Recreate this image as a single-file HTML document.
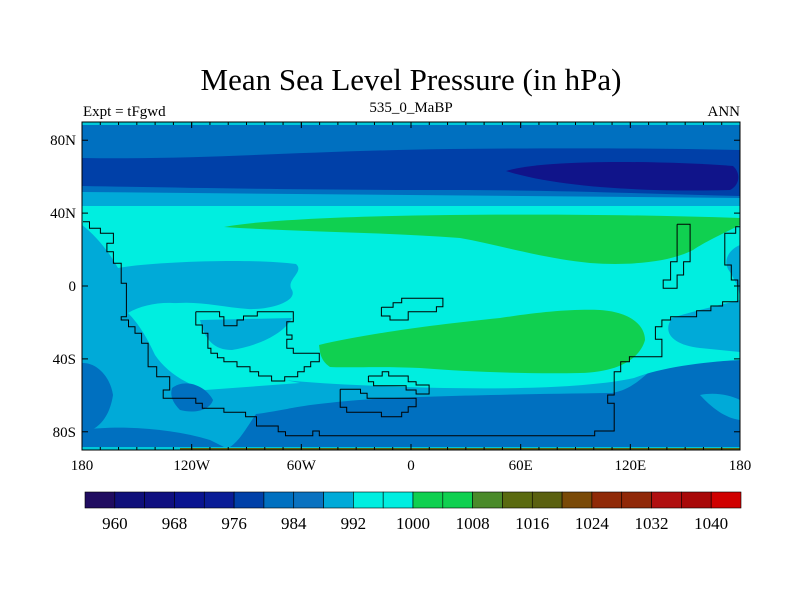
<!DOCTYPE html>
<html><head><meta charset="utf-8"><style>
html,body{margin:0;padding:0;background:#fff;width:800px;height:600px;overflow:hidden}
svg{display:block;font-family:"Liberation Serif",serif}
</style></head><body>
<svg id="chart" width="800" height="600" viewBox="0 0 800 600">
<text x="411" y="90" font-size="31" text-anchor="middle">Mean Sea Level Pressure (in hPa)</text>
<text x="83" y="116" font-size="15">Expt = tFgwd</text>
<text x="411" y="112" font-size="15" text-anchor="middle">535_0_MaBP</text>
<text x="740" y="116" font-size="15" text-anchor="end">ANN</text>
<defs><clipPath id="mc"><rect x="82" y="122" width="658" height="328"/></clipPath></defs>
<g id="map" clip-path="url(#mc)">
<rect x="82" y="122" width="658" height="328" fill="#0070c0"/>
<path fill="#00aad8" d="M82,188 L740,196 L740,360 C700,362 670,365 655,367 C640,380 630,390 612,393 C520,394 430,396 373,399 C330,402 300,406 287,409 C275,411 265,413 256,414 C245,430 240,440 230,447 L82,447 Z"/>
<path fill="#00eee0" d="M82,206 L740,206 L740,300 C720,305 690,312 672,318 C662,332 672,345 700,348 L740,352 L740,360 C700,362 660,368 634,378 C580,390 470,390 380,386 C300,383 240,378 210,365 C190,352 185,330 160,315 C145,305 135,300 126,300 C115,260 100,240 82,228 Z"/>
<path fill="#00aad8" d="M82,225 C95,235 108,250 118,268 C150,262 250,258 296,264 C305,272 285,280 292,290 C298,302 268,310 248,309 C220,307 195,300 170,304 C150,306 135,308 128,313 C140,325 150,345 148,360 C155,372 168,380 185,388 L82,390 Z"/>
<path fill="#00eee0" d="M128,313 C145,303 170,300 195,306 C210,320 212,345 228,360 C245,372 275,378 300,383 L205,390 C182,382 165,370 155,355 C148,340 140,325 128,313 Z"/>
<path fill="#00aad8" d="M200,320 L292,318 C285,332 262,345 232,350 C214,350 205,340 200,320 Z"/>
<path fill="#00aad8" d="M740,245 C728,250 722,262 730,272 C736,282 740,290 740,300 Z"/>
<path fill="#0070c0" d="M82,122 L740,122 L740,198 L82,192 Z"/>
<path fill="#0040a8" d="M82,158 C200,160 300,151 450,149 C560,148 650,148 740,150 L740,196 C650,194 560,190 450,190 C300,190 200,188 82,186 Z"/>
<path fill="#10148a" d="M506,171 C540,160 650,160 733,166 C741,173 740,185 730,190 C650,192 560,188 506,171 Z"/>
<path fill="#10d050" d="M224,227 C260,220 350,216 450,215 C560,214 650,215 740,218 L740,225 C720,235 705,242 693,250 C670,262 630,266 590,263 C540,258 500,245 460,238 C380,232 300,232 224,227 Z"/>
<path fill="#10d050" d="M319,345 C360,335 430,325 500,318 C540,312 570,309 600,310 C630,312 645,325 645,340 C640,358 620,372 580,373 C530,374 470,372 420,368 C380,366 345,368 330,367 C320,360 320,352 319,345 Z"/>
<path fill="#0070c0" d="M82,363 C95,362 110,375 113,395 C110,415 100,430 82,433 Z"/>
<path fill="#0070c0" d="M172,388 C185,378 205,385 213,400 C210,410 195,414 180,410 C172,402 170,395 172,388 Z"/>
<path fill="#0070c0" d="M82,430 C120,425 170,428 210,440 L230,450 L82,450 Z"/>
<path fill="#00aad8" d="M700,395 C715,392 730,395 740,400 L740,420 C725,418 712,408 700,395 Z"/>
<rect x="82" y="122" width="658" height="3" fill="#00c8d8"/>
<rect x="82" y="447" width="658" height="3" fill="#00c8d8"/>
<rect x="180" y="448" width="560" height="2" fill="#5a6010"/>
<g id="coast" fill="none" stroke="#000" stroke-width="1"></g>
</g>
<rect x="82" y="122" width="658" height="328" fill="none" stroke="#000" stroke-width="1"/>
<g id="axes" font-size="15"></g>
<g id="cbar"></g>
</svg>
<script>
var levels=[960,964,968,972,976,980,984,988,992,996,1000,1004,1008,1012,1016,1020,1024,1028,1032,1036,1040];
var colors=["#200c60","#10107a","#101080","#0a1490","#0a1c96","#0040a8","#0070c0","#0a72c0","#00aad8","#00eee0","#00eee0","#10d050","#10d050","#4a8a2a","#5a6a10","#5a6010","#7a4a08","#902a08","#902808","#b01010","#a80808","#d00000"];
var cbLabels=[960,968,976,984,992,1000,1008,1016,1024,1032,1040];
var lonTicks=[-180,-120,-60,0,60,120,180];
var lonLabels=["180","120W","60W","0","60E","120E","180"];
var latTicks=[80,40,0,-40,-80];
var latLabels=["80N","40N","0","40S","80S"];
var NS="http://www.w3.org/2000/svg";
function xLon(l){return 82+(l+180)*658/360;}
function yLat(l){return 122+(90-l)*328/180;}
function mk(t,a,p){var e=document.createElementNS(NS,t);for(var k in a)e.setAttribute(k,a[k]);(p||document.getElementById('chart')).appendChild(e);return e;}
var ax=document.getElementById('axes');
lonTicks.forEach(function(l,i){
 var t=mk('text',{x:xLon(l),y:470,'text-anchor':'middle'},ax);t.textContent=lonLabels[i];
 
 
 var k=mk('line',{x1:xLon(l),x2:xLon(l),y1:122,y2:128,stroke:'#000'},ax);
 
 
 var k2=mk('line',{x1:xLon(l),x2:xLon(l),y1:444,y2:450,stroke:'#000'},ax);
 
 
});
for(var l=-170;l<180;l+=10){var m=mk('line',{x1:xLon(l),x2:xLon(l),y1:122,y2:125,stroke:'#000'},ax);
 
 
 var m2=mk('line',{x1:xLon(l),x2:xLon(l),y1:447,y2:450,stroke:'#000'},ax);
 
 }
latTicks.forEach(function(l,i){
 var t=mk('text',{x:76,y:yLat(l)+5,'text-anchor':'end'},ax);t.textContent=latLabels[i];
 
 
 var k=mk('line',{x1:82,x2:88,y1:yLat(l),y2:yLat(l),stroke:'#000'},ax);
 
 
 var k2=mk('line',{x1:734,x2:740,y1:yLat(l),y2:yLat(l),stroke:'#000'},ax);
 
 
});
var cb=document.getElementById('cbar');
var cbX0=85,cbW=656,cbY=492,cbH=16,bw=cbW/colors.length;
function xLev(v){return cbX0+bw*(1+(v-levels[0])/4);}
colors.forEach(function(c,i){
 var r=mk('rect',{x:cbX0+i*bw,y:cbY,width:bw,height:cbH,fill:c,stroke:'#000','stroke-width':0.6},cb);
 
 
});
cbLabels.forEach(function(v){
 var t=mk('text',{x:xLev(v),y:529,'text-anchor':'middle','font-size':17},cb);t.textContent=v;
 
 
});
function Z(p){var s=[];for(var i=0;i<p.length;i+=2)s.push((70+p[i]/2.306).toFixed(1)+','+(100+p[i+1]/3).toFixed(1));return s.join(' ');}
var coasts=[
[30,365,45,365,45,385,70,385,70,400,100,400,100,430,85,430,85,455,100,455,100,490,118,490,118,550,130,550,130,650,118,650,118,660,135,660,135,680,150,680,150,700,165,700,165,730,180,730,180,800,200,800,200,830,230,830,230,870,215,870,215,895,290,895,290,910,305,910,305,925,355,925,355,937,405,937,405,950,430,950,430,978,480,978,480,995,497,995,497,1007,560,1007,560,993,575,993,575,1007,1210,1007,1210,993,1255,993,1255,910,1240,910,1240,885,1255,885,1255,815,1270,815,1270,785,1290,785,1290,770,1365,770,1365,718,1350,718,1350,680,1365,680,1365,660,1385,660,1385,650,1445,650,1445,632,1478,632,1478,618,1505,618,1505,605,1540,605,1540,540,1525,540,1525,495,1510,495,1510,400,1535,400,1535,380,1550,380],
[290,635,345,635,345,650,355,650,355,677,385,677,385,660,400,660,400,648,432,648,432,635,515,635,515,665,500,665,500,705,512,705,512,718,500,718,500,745,515,745,515,760,575,760,575,785,555,785,555,800,540,800,540,815,525,815,525,830,495,830,495,843,465,843,465,828,435,828,435,815,415,815,415,800,385,800,385,785,355,785,355,773,340,773,340,760,325,760,325,745,318,745,318,700,305,700,305,675,290,675,290,635],
[718,622,745,622,745,608,765,608,765,595,860,595,860,620,845,620,845,635,780,635,780,660,738,660,738,648,718,648,718,622],
[688,828,720,828,720,815,735,815,735,828,780,828,780,845,798,845,798,855,828,855,828,882,798,882,798,870,775,870,775,857,700,857,700,845,688,845,688,828],
[623,868,670,868,670,880,685,880,685,895,798,895,798,920,780,920,780,937,765,937,765,950,718,950,718,937,638,937,638,922,623,922,623,868],
[1400,373,1430,373,1430,485,1415,485,1415,525,1400,525,1400,565,1368,565,1368,540,1385,540,1385,485,1400,485,1400,373]
];
var cg=document.getElementById('coast');
coasts.forEach(function(p){
 var e=mk('polyline',{points:Z(p)},cg);
 
 
});
</script>
</body></html>
